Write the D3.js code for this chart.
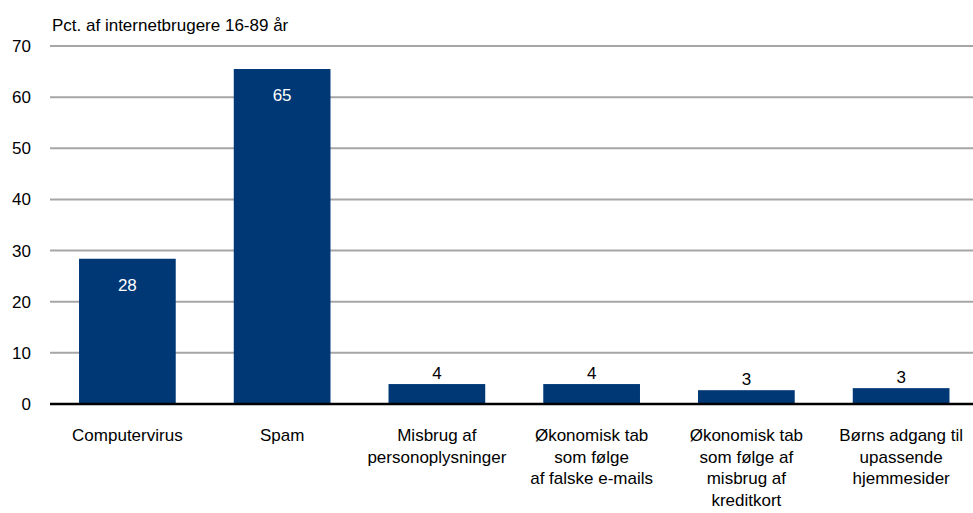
<!DOCTYPE html>
<html>
<head>
<meta charset="utf-8">
<script src="https://cdn.jsdelivr.net/npm/d3@7"></script>
<style>
  body { margin: 0; background: #fff; }
  text { font-family: "Liberation Sans Narrow", "Arial Narrow", "Liberation Sans", sans-serif; }
</style>
</head>
<body>
<div id="chart"></div>
<script>
// chart data
var categories = [
  ["Computervirus"],
  ["Spam"],
  ["Misbrug af", "personoplysninger"],
  ["Økonomisk tab", "som følge", "af falske e-mails"],
  ["Økonomisk tab", "som følge af", "misbrug af", "kreditkort"],
  ["Børns adgang til", "upassende", "hjemmesider"]
];
var values = [28.4, 65.5, 3.9, 3.9, 2.7, 3.1];
var valueLabels = ["28", "65", "4", "4", "3", "3"];
var yTicks = [0, 10, 20, 30, 40, 50, 60, 70];
var yTitle = "Pct. af internetbrugere 16-89 år";

var w = 973;
var h = 513;

var svg = d3.select("#chart")
  .append("svg")
  .attr("width", w)
  .attr("height", h);

//scales
var xScale = d3.scaleBand()
  .domain(d3.range(values.length))
  .range([50, 978.5])
  .paddingInner(0.375)
  .paddingOuter(0.1875);

var yScale = d3.scaleLinear()
  .domain([0, 70])
  .range([404, 46]);

//gridlines
svg.append("g")
  .selectAll("line")
  .data(yTicks.filter(function (d) { return d > 0; }))
  .enter()
  .append("line")
  .attr("x1", 50)
  .attr("x2", w)
  .attr("y1", function (d) { return yScale(d); })
  .attr("y2", function (d) { return yScale(d); })
  .attr("stroke", "#a6a6a6")
  .attr("stroke-width", 2);

//y axis labels
var yAxis = d3.axisLeft(yScale).tickValues(yTicks).tickSize(0).tickPadding(0);
svg.append("g")
  .attr("transform", "translate(31,0)")
  .call(yAxis)
  .call(function (g) { g.select(".domain").remove(); })
  .selectAll("text")
  .style("font-size", "17px")
  .attr("fill", "#000");

//y axis title
svg.append("text")
  .attr("x", 52)
  .attr("y", 31)
  .style("font-size", "17px")
  .attr("fill", "#000")
  .text(yTitle);

//bars
svg.selectAll("rect.bar")
  .data(values)
  .enter()
  .append("rect")
  .attr("class", "bar")
  .attr("x", function (d, i) { return xScale(i); })
  .attr("width", xScale.bandwidth())
  .attr("y", function (d) { return yScale(d); })
  .attr("height", function (d) { return yScale(0) - yScale(d); })
  .attr("fill", "#003876");

//baseline
svg.append("line")
  .attr("x1", 50)
  .attr("x2", w)
  .attr("y1", yScale(0))
  .attr("y2", yScale(0))
  .attr("stroke", "#000")
  .attr("stroke-width", 2.5);

//value labels, inside for tall bars and above for short ones
svg.selectAll("text.value")
  .data(values)
  .enter()
  .append("text")
  .attr("class", "value")
  .attr("x", function (d, i) { return xScale(i) + xScale.bandwidth() / 2; })
  .attr("y", function (d) {
    return d > 10 ? yScale(d) + 32 : yScale(d) - 5;
  })
  .attr("text-anchor", "middle")
  .style("font-size", "17px")
  .attr("fill", function (d) { return d > 10 ? "#fff" : "#000"; })
  .text(function (d, i) { return valueLabels[i]; });

//category labels
var cat = svg.selectAll("text.cat")
  .data(categories)
  .enter()
  .append("text")
  .attr("class", "cat")
  .attr("text-anchor", "middle")
  .style("font-size", "17px")
  .attr("fill", "#000");

cat.selectAll("tspan")
  .data(function (d, i) {
    return d.map(function (line) { return { line: line, i: i }; });
  })
  .enter()
  .append("tspan")
  .attr("x", function (d) { return xScale(d.i) + xScale.bandwidth() / 2; })
  .attr("y", function (d, j) { return 441 + j * 21.7; })
  .text(function (d) { return d.line; });
</script>
</body>
</html>
